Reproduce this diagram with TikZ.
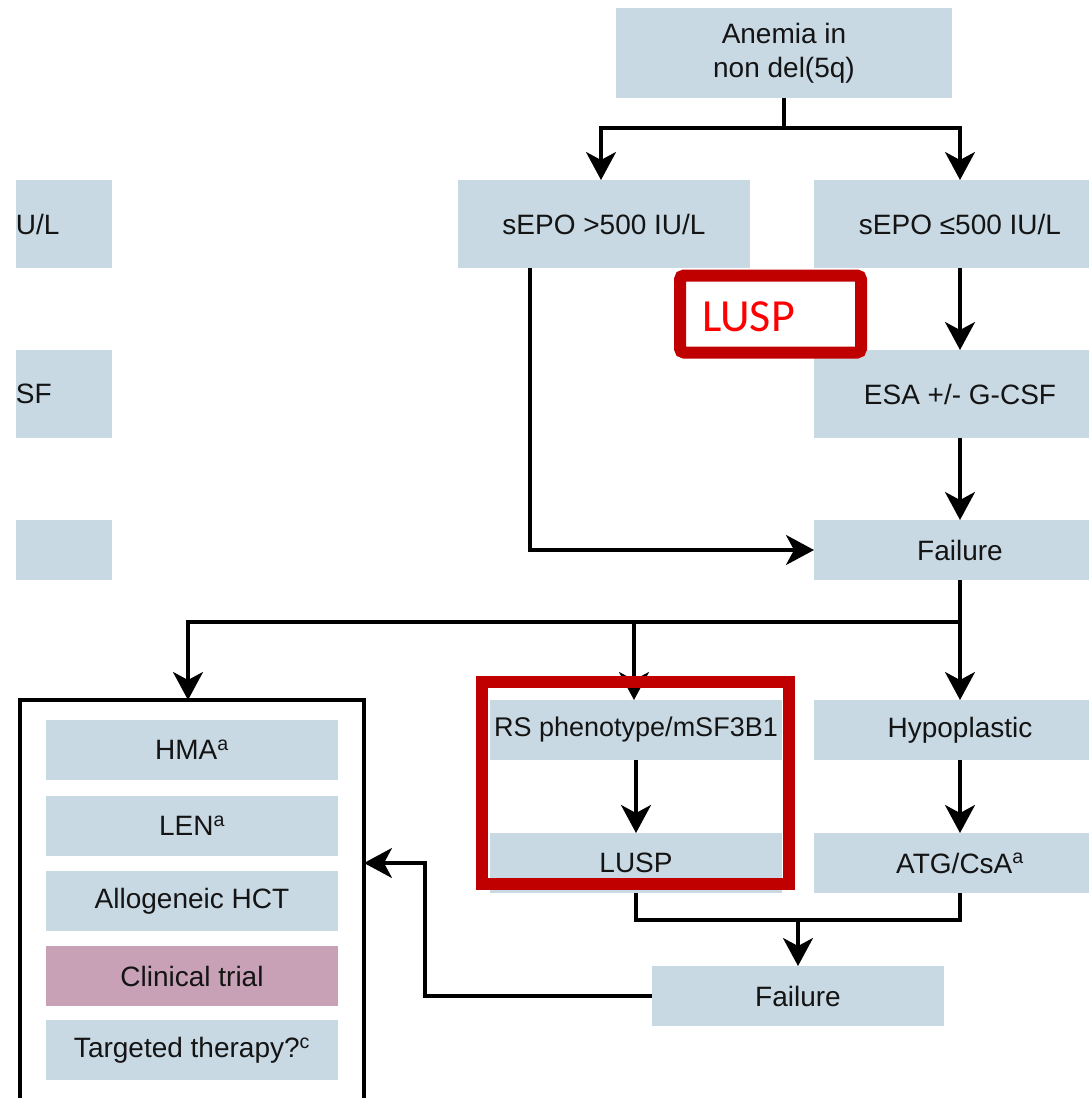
\documentclass[tikz,border=0pt]{standalone}
\usepackage{fontspec}
\setmainfont{Liberation Sans}
\newfontfamily\calfont{Carlito}
\usetikzlibrary{arrows.meta}
\definecolor{boxblue}{RGB}{200,217,228}
\definecolor{trialpink}{RGB}{201,161,183}
\definecolor{framered}{RGB}{192,0,0}
\definecolor{txt}{RGB}{20,20,20}

\begin{document}
\begin{tikzpicture}[x=1pt,y=-1pt,
  every node/.style={inner sep=0pt, outer sep=0pt},
  blk/.style={fill=boxblue, minimum width=292pt, minimum height=60pt,
    font=\fontsize{28}{34}\selectfont, text=txt, align=center},
  tall/.style={blk, minimum height=88pt},
  conn/.style={line width=3.2pt, draw=black},
  arr/.style={conn, -{Stealth[length=28pt,width=30pt,inset=8pt]}},
  redframe/.style={draw=framered, line width=12pt}
]
\useasboundingbox (0,0) rectangle (1089,1098);
\clip (0,0) rectangle (1089,1098);
\fill[white] (0,0) rectangle (1089,1098);

% left column, partly cut off
\node[tall, minimum width=96pt, text width=96pt, align=left] (p1) at (64,224) {U/L};
\node[tall, minimum width=96pt, text width=96pt, align=left] (p2) at (64,394) {SF};
\node[blk, minimum width=96pt] (p3) at (64,550) {};

% main flow
\node[blk, minimum width=336pt, minimum height=90pt] (anemia) at (784,53) {Anemia in\\non del(5q)};
\node[tall] (hi) at (604,224) {sEPO >500 IU/L};
\node[tall] (lo) at (960,224) {sEPO ≤500 IU/L};
\node[tall] (esa) at (960,394) {ESA +/- G-CSF};
\node[blk] (fail1) at (960,550) {Failure};
\node[blk, font=\fontsize{27}{34}\selectfont] (rs) at (636,730) {RS phenotype/mSF3B1};
\node[blk] (lusp) at (636,863) {LUSP};
\node[blk] (hypo) at (960,730) {Hypoplastic};
\node[blk] (atg) at (960,863) {ATG/CsA\textsuperscript{a}};
\node[blk] (fail2) at (798,996) {Failure};

% treatment options
\node[conn, minimum width=344pt, minimum height=440pt] (opts) at (192,920) {};
\node[blk] (hma) at (192,750) {HMA\textsuperscript{a}};
\node[blk] (len) at (192,826) {LEN\textsuperscript{a}};
\node[blk] (hct) at (192,901) {Allogeneic HCT};
\node[blk, fill=trialpink] (trial) at (192,976) {Clinical trial};
\node[blk] (tgt) at (192,1050) {Targeted therapy?\textsuperscript{c}};

% connectors
\draw[conn] (anemia.south) -- ++(0,30) coordinate (s1);
\draw[arr] (s1) -| ([xshift=-3pt]hi.north);
\draw[arr] (s1) -| (lo.north);
\draw[arr] (lo.south) -- (esa.north);
\draw[arr] (esa.south) -- (fail1.north);
\draw[arr] ([xshift=-74pt]hi.south) |- (fail1.west);
\draw[conn] (fail1.south) -- ++(0,42) coordinate (s2);
\draw[arr] (s2) -| ([xshift=-4pt]opts.north);
\draw[arr] (s2) -| ([xshift=-2pt]rs.north);
\draw[arr] (s2) -- (hypo.north);
\draw[arr] (rs.south) -- (lusp.north);
\draw[arr] (hypo.south) -- (atg.north);
\draw[conn] (lusp.south) -- ++(0,27) coordinate (s3) -| (atg.south);
\draw[arr] (s3 -| fail2.north) -- (fail2.north);
\draw[arr] (fail2.west) -- ++(-227,0) |- (opts.east |- lusp.center);

% highlight frames
\node[redframe, minimum width=306.5pt, minimum height=202pt] (rsmark) at (635.25,783) {};
\node[redframe, fill=white, rounded corners=4pt, minimum width=181pt, minimum height=77pt] (tagframe) at (770.5,314) {};
\node[anchor=base west, text=red, font=\calfont\fontsize{46}{46}\selectfont] (tag) at (702,331) {LUSP};
\end{tikzpicture}
\end{document}
